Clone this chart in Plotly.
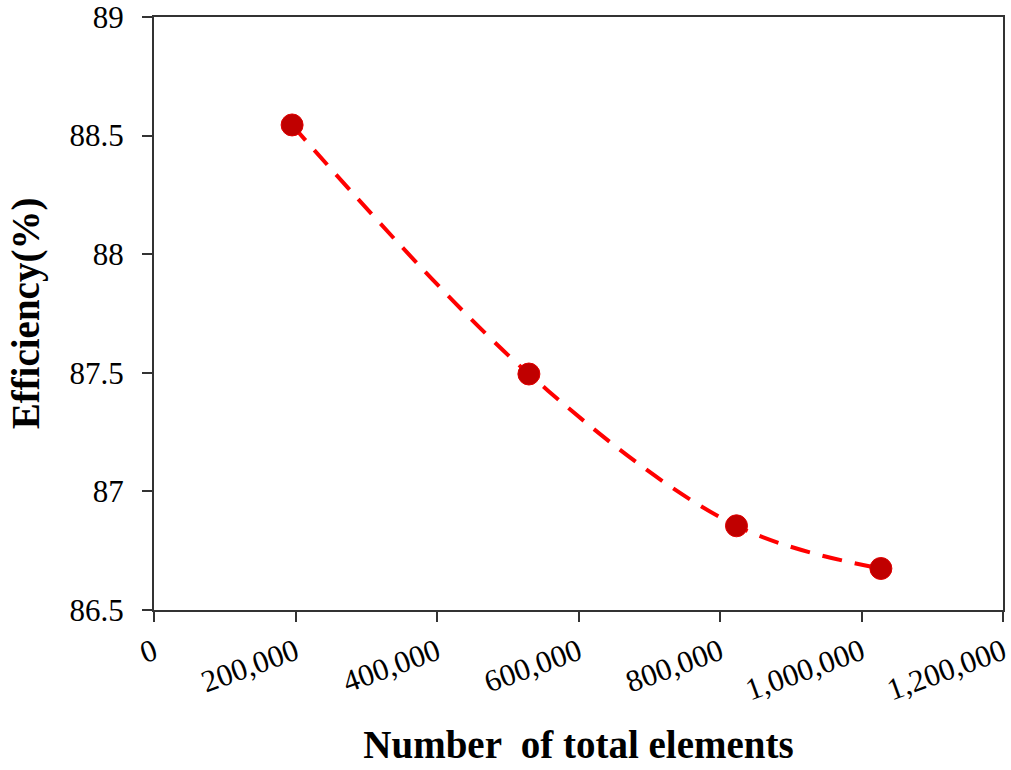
import plotly.graph_objects as go

elements = [195200, 529900, 823300, 1027400]
efficiency = [88.545, 87.495, 86.855, 86.675]

x_ticks = [0, 200000, 400000, 600000, 800000, 1000000, 1200000]
y_ticks = [86.5, 87, 87.5, 88, 88.5, 89]

fig = go.Figure()
fig.add_trace(go.Scatter(
    x=elements, y=efficiency, mode="lines",
    line=dict(color="#FF0000", width=4, dash="20px,13px", shape="spline", smoothing=1.0),
    showlegend=False, hoverinfo="skip"))
fig.add_trace(go.Scatter(
    x=elements, y=efficiency, mode="markers",
    marker=dict(color="#C00000", size=22, line=dict(width=1, color="#E00000")),
    showlegend=False))

font_family = "Liberation Serif, Times New Roman, serif"
fig.update_layout(
    width=1011, height=770,
    margin=dict(l=154, r=0, t=16, b=160),
    paper_bgcolor="white", plot_bgcolor="white",
    font=dict(family=font_family, color="black", size=31),
)
fig.update_xaxes(
    range=[0, 1200000], tickvals=x_ticks,
    ticktext=[f"{v:,}" for v in x_ticks],
    tickangle=-20, ticks="outside", ticklen=10, tickwidth=1.5, tickcolor="#333",
    showline=True, linecolor="#333", linewidth=2, mirror=True,
    showgrid=False, zeroline=False, ticklabeloverflow="allow",
    tickfont=dict(size=31, family=font_family),
    title=dict(text="<b>Number  of total elements</b>", font=dict(size=39, family=font_family), standoff=24),
)
fig.update_yaxes(
    range=[86.5, 89.0001], tickvals=y_ticks,
    ticktext=[f"{v:g}" for v in y_ticks],
    ticks="outside", ticklen=10, tickwidth=1.5, tickcolor="#333",
    showline=True, linecolor="#333", linewidth=2, mirror=True,
    showgrid=False, zeroline=False, ticklabeloverflow="allow",
    ticklabelstandoff=12,
    tickfont=dict(size=31, family=font_family),
    title=dict(text="<b>Efficiency(%)</b>", font=dict(size=39, family=font_family), standoff=18),
)

fig.write_html("out.html")
